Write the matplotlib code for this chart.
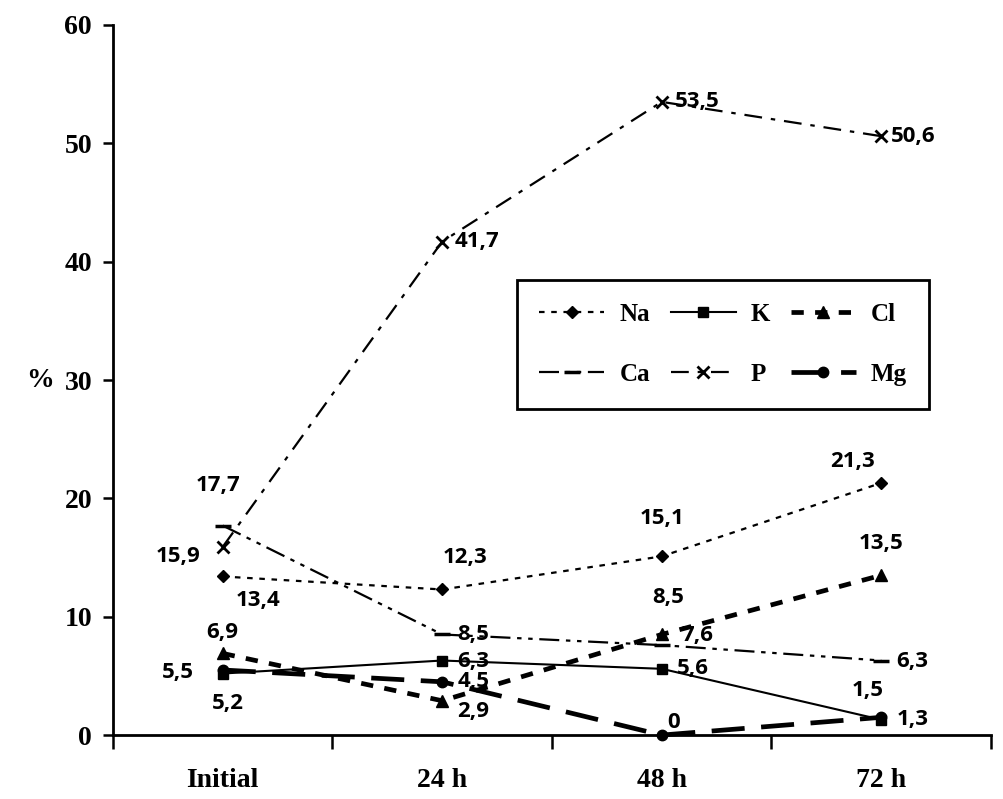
import numpy as np
import matplotlib.pyplot as plt

# Sampling times (x axis categories)
times = ['Initial', '24 h', '48 h', '72 h']

# Percentages for each element
na = [13.4, 12.3, 15.1, 21.3]
k = [5.2, 6.3, 5.6, 1.3]
cl = [6.9, 2.9, 8.5, 13.5]
ca = [17.7, 8.5, 7.6, 6.3]
p = [15.9, 41.7, 53.5, 50.6]
mg = [5.5, 4.5, 0.0, 1.5]

yticks = [0, 10, 20, 30, 40, 50, 60]

serif = 'Liberation Serif'
sans = 'Open Sans'

fig = plt.figure(figsize=(10.04, 7.99), dpi=100)
ax = fig.add_axes([0.1125, 0.080, 0.8745, 0.8888])

x = np.arange(len(times))

# line styles per series
styles = {
    'Na': dict(y=na, ls=(0, (2.5, 3)), lw=1.6, marker='D', ms=6.5, mew=1),
    'K': dict(y=k, ls='-', lw=1.5, marker='s', ms=7, mew=1),
    'Cl': dict(y=cl, ls=(0, (2.6, 2.4)), lw=3.4, marker='^', ms=8, mew=1),
    'Ca': dict(y=ca, ls=(0, (9, 3, 2, 3, 2, 3)), lw=1.6, marker='_', ms=11, mew=2.5),
    'P': dict(y=p, ls=(0, (8, 4, 2, 4)), lw=1.6, marker='x', ms=8, mew=2),
    'Mg': dict(y=mg, ls=(0, (7, 3.5)), lw=3.4, marker='o', ms=7.5, mew=1),
}

handles = {}
for name, s in styles.items():
    ln, = ax.plot(x, s['y'], color='black', linestyle=s['ls'], linewidth=s['lw'],
                  marker=s['marker'], markersize=s['ms'], markeredgewidth=s['mew'],
                  markerfacecolor='black', markeredgecolor='black', label=name,
                  dash_capstyle='butt', clip_on=False, zorder=3)
    handles[name] = ln

# data labels: pixel offsets from each point
offsets = {
    'Na': [(35, -24), (23, 32), (0, 38), (-29, 21)],
    'K': [(5, -30), (31, -1), (31, 0), (31, 0)],
    'Cl': [(0, 21), (31, -11), (6, 37), (0, 32)],
    'Ca': [(-5, 40), (31, 0), (36, 10), (31, -1)],
    'P': [(-45, -10), (35, 0), (36, 0), (32, 0)],
    'Mg': [(-45, -3), (31, 0), (12, 13), (-14, 27)],
}
for name, s in styles.items():
    for xi, yi, off in zip(x, s['y'], offsets[name]):
        txt = f'{yi:g}'.replace('.', ',')
        ax.annotate(txt, (xi, yi), xytext=off, textcoords='offset pixels',
                    ha='center', va='center', fontsize=16, fontweight='bold',
                    family=sans, zorder=4)

# axes
ax.set_xlim(-0.5, 3.5)
ax.set_ylim(0, 60)
ax.spines['top'].set_visible(False)
ax.spines['right'].set_visible(False)
ax.spines['left'].set_linewidth(2)
ax.spines['bottom'].set_linewidth(2)

ax.set_xticks(np.arange(-0.5, 4.0, 1.0))
ax.set_xticklabels([])
ax.tick_params(axis='x', which='major', direction='out', length=10, width=1.8)
ax.set_xticks(x, minor=True)
ax.set_xticklabels(times, minor=True, fontsize=20, fontweight='bold', family=serif)
ax.tick_params(axis='x', which='minor', length=0, pad=24)

ax.set_yticks(yticks)
ax.set_yticklabels([str(v) for v in yticks], fontsize=20, fontweight='bold', family=serif)
ax.tick_params(axis='y', direction='out', length=7, width=1.8, pad=8)

ax.set_ylabel('%', rotation=0, fontsize=20, fontweight='bold', family=serif,
              ha='center', va='center')
ax.yaxis.set_label_coords(-0.083, 0.5)

order = ['Na', 'Ca', 'K', 'P', 'Cl', 'Mg']
leg = ax.legend([handles[n] for n in order], order, ncol=3, loc='center',
                bbox_to_anchor=(0.46, 0.455, 0.47, 0.19), mode='expand',
                borderaxespad=0,
                prop={'family': serif, 'weight': 'bold', 'size': 18},
                handlelength=2.6, handletextpad=0.6, labelspacing=1.5,
                borderpad=0.9, numpoints=1, fancybox=False, framealpha=1)
leg.get_frame().set_edgecolor('black')
leg.get_frame().set_linewidth(2)

fig.savefig('out.png', dpi=100)
